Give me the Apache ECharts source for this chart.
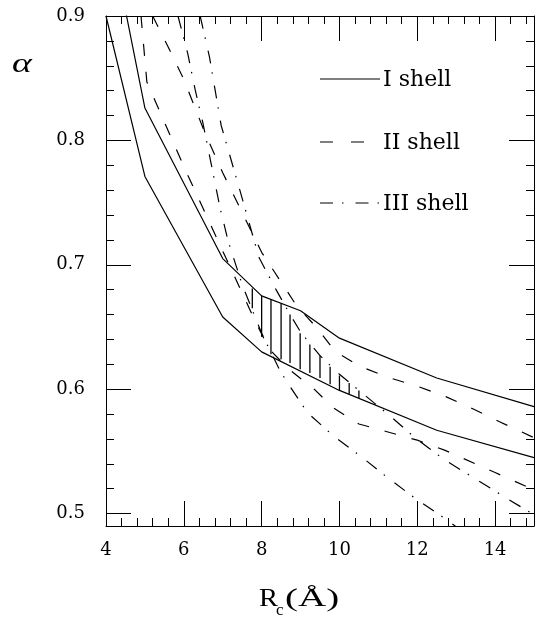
<!DOCTYPE html>
<html><head><meta charset="utf-8">
<script src="https://cdn.jsdelivr.net/npm/echarts@6/dist/echarts.min.js"></script>
<style>html,body{margin:0;padding:0;background:#fff}#c{width:535px;height:622px}</style>
</head><body><div id="c"></div>
<script>
// ---- tick values ----
const xMajorTicks = [4, 6, 8, 10, 12, 14];
const xMinorTicks = [4.4,4.8,5.2,5.6,6.4,6.8,7.2,7.6,8.4,8.8,9.2,9.6,10.4,10.8,11.2,11.6,12.4,12.8,13.2,13.6,14.4,14.8];
const yMajorTicks = [0.5, 0.6, 0.7, 0.8, 0.9];
const yMinorTicks = [0.52,0.54,0.56,0.58,0.62,0.64,0.66,0.68,0.72,0.74,0.76,0.78,0.82,0.84,0.86,0.88];

// ---- I shell (solid) ----
const shell1UpperX = [4, 5, 7, 8, 9, 10, 12.5, 15];
const shell1UpperY = [0.983, 0.826, 0.705, 0.675, 0.663, 0.641, 0.609, 0.586];
const shell1LowerX = [4, 5, 7, 8, 10, 12.5, 15];
const shell1LowerY = [0.900, 0.771, 0.658, 0.630, 0.599, 0.567, 0.545];

// ---- II shell (dashed) ----
const shell2UpperX = [5.2, 5.63, 6.0, 6.53, 7.0, 8.0, 8.9, 9.43, 9.9, 10.55, 11.3, 12.03, 12.73, 13.44, 14.1, 15];
const shell2UpperY = [0.900, 0.873, 0.849, 0.807, 0.774, 0.710, 0.667, 0.649, 0.630, 0.618, 0.609, 0.602, 0.594, 0.584, 0.574, 0.561];
const shell2LowerX = [4.9, 5.05, 6.0, 7.0, 7.86, 8.2, 8.7, 9.35, 9.84, 10.5, 11.2, 12.0, 12.7, 14.0, 15];
const shell2LowerY = [0.900, 0.847, 0.779, 0.711, 0.653, 0.632, 0.616, 0.600, 0.585, 0.572, 0.566, 0.559, 0.551, 0.533, 0.519];

// ---- III shell (dash-dot) ----
const shell3UpperX = [6.42, 6.66, 6.96, 7.44, 7.93, 8.37, 8.73, 9.0, 9.5, 10.0, 10.5, 11.32, 11.94, 12.71, 13.49, 14.26, 15];
const shell3UpperY = [0.900, 0.867, 0.812, 0.760, 0.706, 0.680, 0.660, 0.646, 0.627, 0.612, 0.599, 0.578, 0.561, 0.543, 0.528, 0.513, 0.499];
const shell3LowerX = [5.85, 6.1, 6.29, 6.49, 6.93, 7.14, 7.5, 8.0, 8.47, 8.69, 9.18, 9.86, 10.59, 11.23, 12.0, 12.76, 13.1];
const shell3LowerY = [0.900, 0.870, 0.841, 0.814, 0.746, 0.719, 0.684, 0.645, 0.615, 0.604, 0.581, 0.562, 0.545, 0.529, 0.511, 0.495, 0.487];

// ---- hatched overlap region (vertical strokes) ----
const hatchX      = [7.76, 8.0, 8.24, 8.5, 8.73, 8.99, 9.24, 9.5, 9.76, 10.0, 10.25, 10.5];
const hatchTop    = [0.681, 0.675, 0.672, 0.669, 0.660, 0.645, 0.636, 0.627, 0.618, 0.611, 0.605, 0.599];
const hatchBottom = [0.665, 0.642, 0.628, 0.624, 0.621, 0.616, 0.613, 0.609, 0.604, 0.599, 0.596, 0.593];

const FONT = '"DejaVu Serif", "Liberation Serif", serif';
const FONT2 = '"Liberation Serif", "DejaVu Serif", serif';
const zip = (xs, ys) => xs.map((x, i) => [x, ys[i]]);
const DASH = [12, 16];
const DASHDOT = [13, 9, 1.5, 12];

function xAx(pos, ticks, len, label, line) {
  return {
    type: 'value', position: pos, min: 4, max: 15,
    axisLine: { show: line, onZero: false, lineStyle: { color: '#000', width: 1 } },
    axisTick: { show: true, inside: true, length: len, customValues: ticks, lineStyle: { color: '#000', width: 1 } },
    axisLabel: { show: label, customValues: ticks, margin: 15, color: '#000', fontFamily: FONT, fontSize: 18 },
    splitLine: { show: false }
  };
}
function yAx(pos, ticks, len, label, line) {
  return {
    type: 'value', position: pos, min: 0.49, max: 0.9,
    axisLine: { show: line, onZero: false, lineStyle: { color: '#000', width: 1 } },
    axisTick: { show: true, inside: true, length: len, customValues: ticks, lineStyle: { color: '#000', width: 1 } },
    axisLabel: { show: label, customValues: ticks, margin: 21, color: '#000', fontFamily: FONT, fontSize: 18,
      formatter: v => Number(v).toFixed(1) },
    splitLine: { show: false }
  };
}
function lineSeries(xs, ys, type) {
  return {
    type: 'line', xAxisIndex: 0, yAxisIndex: 0, data: zip(xs, ys),
    showSymbol: false, symbol: 'none', clip: true, silent: true,
    lineStyle: { color: '#000', width: 1.2, type: type }
  };
}

const chart = echarts.init(document.getElementById('c'), null, { renderer: 'canvas' });
chart.setOption({
  animation: false,
  backgroundColor: '#fff',
  grid: { left: 106, right: 1, top: 16, bottom: 96, containLabel: false },
  xAxis: [
    xAx('bottom', xMajorTicks, 25, true, true),
    xAx('bottom', xMinorTicks, 8, false, false),
    xAx('top', xMajorTicks, 25, false, true),
    xAx('top', xMinorTicks, 8, false, false)
  ],
  yAxis: [
    yAx('left', yMajorTicks, 25, true, true),
    yAx('left', yMinorTicks, 8, false, false),
    yAx('right', yMajorTicks, 25, false, true),
    yAx('right', yMinorTicks, 8, false, false)
  ],
  series: [
    lineSeries(shell1UpperX, shell1UpperY, 'solid'),
    lineSeries(shell1LowerX, shell1LowerY, 'solid'),
    lineSeries(shell2UpperX, shell2UpperY, DASH),
    lineSeries(shell2LowerX, shell2LowerY, DASH),
    lineSeries(shell3UpperX, shell3UpperY, DASHDOT),
    lineSeries(shell3LowerX, shell3LowerY, DASHDOT),
    {
      type: 'custom', xAxisIndex: 0, yAxisIndex: 0, silent: true,
      data: hatchX.map((x, i) => [x, hatchTop[i], hatchBottom[i]]),
      encode: { x: 0, y: [1, 2] },
      renderItem: function (params, api) {
        const p1 = api.coord([api.value(0), api.value(1)]);
        const p2 = api.coord([api.value(0), api.value(2)]);
        return { type: 'line', shape: { x1: p1[0], y1: p1[1], x2: p2[0], y2: p2[1] },
          style: { stroke: '#000', lineWidth: 1.3 } };
      }
    }
  ],
  graphic: [
    { type: 'text', x: 22, y: 65, scaleX: 1.35, style: { text: 'α', font: 'italic 28px ' + FONT2, fill: '#000', align: 'center', verticalAlign: 'middle' } },
    { type: 'text', x: 259, y: 599, scaleX: 1.1, style: { text: 'R', font: '26px ' + FONT2, fill: '#000', align: 'left', verticalAlign: 'middle' } },
    { type: 'text', x: 276, y: 611, style: { text: 'c', font: '17px ' + FONT2, fill: '#000', align: 'left', verticalAlign: 'middle' } },
    { type: 'text', x: 285, y: 599, scaleX: 1.5, style: { text: '(Å)', font: '26px ' + FONT2, fill: '#000', align: 'left', verticalAlign: 'middle' } },
    { type: 'line', shape: { x1: 320, y1: 79, x2: 380, y2: 79 }, style: { stroke: '#000', lineWidth: 1.2 } },
    { type: 'line', shape: { x1: 320, y1: 142, x2: 366, y2: 142 }, style: { stroke: '#000', lineWidth: 1.2, lineDash: [13, 18] } },
    { type: 'line', shape: { x1: 320, y1: 203, x2: 380, y2: 203 }, style: { stroke: '#000', lineWidth: 1.2, lineDash: DASHDOT } },
    { type: 'text', x: 383, y: 80, style: { text: 'I shell', font: '22px ' + FONT, fill: '#000', align: 'left', verticalAlign: 'middle' } },
    { type: 'text', x: 383, y: 143, style: { text: 'II shell', font: '22px ' + FONT, fill: '#000', align: 'left', verticalAlign: 'middle' } },
    { type: 'text', x: 383, y: 204, style: { text: 'III shell', font: '22px ' + FONT, fill: '#000', align: 'left', verticalAlign: 'middle' } }
  ]
});
</script>
</body></html>
